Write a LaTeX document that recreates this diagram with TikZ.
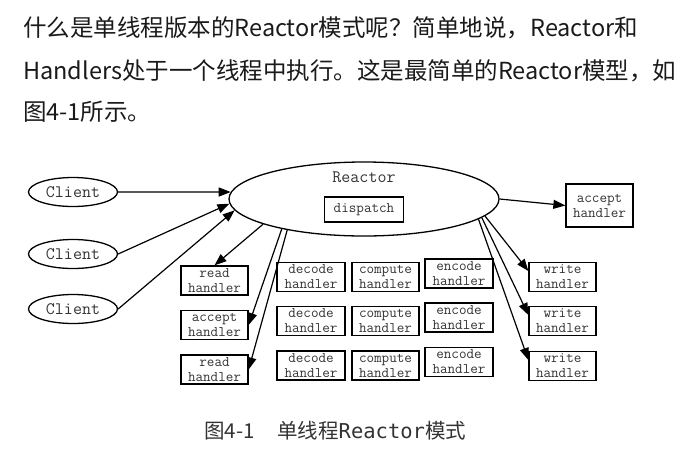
\documentclass[tikz,border=0pt]{standalone}
\usepackage{fontspec}
\setmainfont{Liberation Sans}
\newfontfamily\cjkfont{Noto Sans CJK SC}
\newfontfamily\capmono{DejaVu Sans Mono}
\usetikzlibrary{arrows.meta, positioning, shapes.geometric}

\definecolor{inkgray}{HTML}{1A1A1A}
\definecolor{labelgray}{HTML}{333333}

\tikzset{
    client/.style={draw, ellipse, line width=1.3pt, minimum width=89pt, minimum height=29pt,
        inner sep=0pt, text=labelgray, font=\ttfamily\fontsize{17.5}{19}\selectfont},
    handler/.style={draw, rectangle, line width=1.3pt, minimum width=67pt, minimum height=29pt,
        inner sep=0pt, align=center, text=labelgray, font=\ttfamily\fontsize{14.7}{15}\selectfont},
    flow/.style={line width=1.2pt, -{Triangle[length=12pt, width=9pt]}},
    para/.style={anchor=base west, inner sep=0pt, text=inkgray, font=\cjkfont\fontsize{23.5}{28}\selectfont},
    capt/.style={anchor=base west, inner sep=0pt, text=labelgray, font=\cjkfont\fontsize{20.5}{24}\selectfont}
}

\begin{document}
\begin{tikzpicture}[x=1pt, y=-1pt]
    \useasboundingbox (0,0) rectangle (696,459);

    % text above the figure
    \node[para] (line1) at (23,36) {什么是单线程版本的Reactor模式呢？简单地说，Reactor和};
    \node[para] (line2) at (23,79) {Handlers处于一个线程中执行。这是最简单的Reactor模型，如};
    \node[para] (line3) at (23,120) {图4-1所示。};

    % clients
    \node[client] (client1) at (73,192) {Client};
    \node[client] (client2) at (73,254) {Client};
    \node[client] (client3) at (73,309) {Client};

    % reactor
    \node[draw, ellipse, line width=1.3pt, minimum width=270pt, minimum height=74pt, inner sep=0pt] (reactor) at (364,199) {};
    \node[text=labelgray, font=\ttfamily\fontsize{17.5}{19}\selectfont] (reactorname) at (364,177) {Reactor};
    \node[handler, minimum width=79pt, minimum height=25pt] (dispatch) at (364,209.5) {dispatch};

    % handlers
    \node[handler] (read1) at (214.5,280.5) {read\\handler};
    \node[handler] (accept1) at (214.5,325) {accept\\handler};
    \node[handler] (read2) at (214.5,369.5) {read\\handler};
    \foreach \y/\r in {277/1, 321/2, 365.5/3} {
        \node[handler, minimum width=68pt] (decode\r) at (311,\y) {decode\\handler};
        \node[handler] (compute\r) at (385.5,\y) {compute\\handler};
        \node[handler, minimum width=68pt] (encode\r) at (459,\y-3.5) {encode\\handler};
    }
    \node[handler, minimum height=43pt] (accept2) at (599.5,205.5) {accept\\handler};
    \foreach \y/\r in {277/1, 321/2, 366/3}
        \node[handler] (write\r) at (562.5,\y) {write\\handler};

    % arrows
    \draw[flow] (client1.east) -- (reactor.177);
    \draw[flow] (client2.east) -- (reactor.182);
    \draw[flow] (client3.east) -- (reactor.185);
    \draw[flow] (reactor.194) -- (read1.north);
    \draw[flow] (reactor.200) -- (accept1.east);
    \draw[flow] (reactor.202) -- (read2.east);
    \draw[flow] (reactor.east) -- (accept2.west);
    \foreach \r/\a in {1/352, 2/351, 3/350}
        \draw[flow] (reactor.\a) -- (write\r.170);

    % caption
    \node[capt] (fignum) at (204,438.5) {图4-1};
    \node[capt] (figtitle) at (277,438.5) {单线程{\capmono\fontsize{20.5}{24}\selectfont Reactor}模式};
\end{tikzpicture}
\end{document}
